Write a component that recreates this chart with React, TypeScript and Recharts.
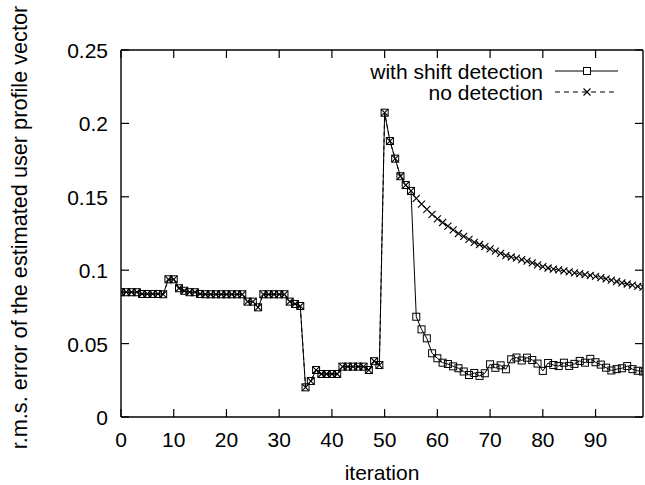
import React from "react";
import { LineChart, Line, XAxis, YAxis, Legend, ReferenceLine } from "recharts";

// ---- data ----
const withShiftDetection: number[] = [
  0.085, 0.085, 0.085, 0.085, 0.0838, 0.0838, 0.0838, 0.0838, 0.0836, 0.0938,
  0.0938, 0.0877, 0.086, 0.085, 0.085, 0.0838, 0.0836, 0.0836, 0.0836, 0.0836,
  0.0836, 0.0836, 0.0836, 0.0836, 0.0786, 0.0786, 0.0747, 0.0836, 0.0836, 0.0836,
  0.0836, 0.0836, 0.0786, 0.077, 0.0756, 0.0202, 0.0245, 0.032, 0.0293, 0.0293,
  0.0293, 0.0293, 0.0343, 0.0343, 0.0343, 0.0343, 0.0343, 0.032, 0.038, 0.0354,
  0.2073, 0.188, 0.176, 0.164, 0.158, 0.154, 0.0683, 0.0597, 0.0536, 0.0434,
  0.04, 0.037, 0.0361, 0.0345, 0.0332, 0.031, 0.0286, 0.03, 0.028, 0.0298,
  0.0359, 0.0335, 0.0352, 0.0325, 0.0393, 0.0405, 0.0385, 0.0404, 0.0388, 0.0364,
  0.0314, 0.0368, 0.0354, 0.0347, 0.037, 0.0348, 0.0362, 0.0382, 0.037, 0.0396,
  0.0373, 0.0357, 0.0336, 0.0317, 0.0326, 0.0332, 0.0347, 0.0326, 0.0315, 0.031,
];

const noDetection: number[] = [
  0.085, 0.085, 0.085, 0.085, 0.0838, 0.0838, 0.0838, 0.0838, 0.0836, 0.0938,
  0.0938, 0.0877, 0.086, 0.085, 0.085, 0.0838, 0.0836, 0.0836, 0.0836, 0.0836,
  0.0836, 0.0836, 0.0836, 0.0836, 0.0786, 0.0786, 0.0747, 0.0836, 0.0836, 0.0836,
  0.0836, 0.0836, 0.0786, 0.077, 0.0756, 0.0202, 0.0245, 0.032, 0.0293, 0.0293,
  0.0293, 0.0293, 0.0343, 0.0343, 0.0343, 0.0343, 0.0343, 0.032, 0.038, 0.0354,
  0.2073, 0.188, 0.176, 0.164, 0.158, 0.154, 0.149, 0.145, 0.1415, 0.138,
  0.135, 0.1325, 0.13, 0.1275, 0.125, 0.123, 0.121, 0.119, 0.1175, 0.116,
  0.1145, 0.113, 0.1115, 0.11, 0.109, 0.1082, 0.1072, 0.1062, 0.105, 0.1037,
  0.1025, 0.1015, 0.1008, 0.1002, 0.0995, 0.0988, 0.0982, 0.0976, 0.097, 0.0964,
  0.0958, 0.095, 0.0941, 0.0932, 0.0923, 0.0914, 0.0906, 0.0898, 0.089, 0.0885,
];

const xTicks: number[] = [0, 10, 20, 30, 40, 50, 60, 70, 80, 90];
const yTicks: number[] = [0, 0.05, 0.1, 0.15, 0.2, 0.25];
const seriesKeys: string[] = ["withShift", "noDetection"];
const seriesNames = { withShift: "with shift detection", noDetection: "no detection" };
const xTitle = "iteration";
const yTitle = "r.m.s. error of the estimated user profile vector";

const data = withShiftDetection.map((v, i) => ({
  iteration: i,
  withShift: v,
  noDetection: noDetection[i],
}));

// ---- layout ----
const W = 645;
const H = 485;
const M = { top: 50, right: 2, bottom: 0, left: 0 };
const Y_AXIS_W = 121;
const X_AXIS_H = 68;
const PLOT_W = W - M.left - M.right - Y_AXIS_W;
const PLOT_H = H - M.top - M.bottom - X_AXIS_H;
const FONT = "'Liberation Sans', Arial, Helvetica, sans-serif";
const FS = 21;
const INK = "#000";

const XTick = (props: any) => {
  const { x, y, payload } = props;
  return (
    <g>
      <line x1={x} x2={x} y1={y} y2={y - 8} stroke={INK} strokeWidth={1.2} />
      <line x1={x} x2={x} y1={y - PLOT_H} y2={y - PLOT_H + 8} stroke={INK} strokeWidth={1.2} />
      <text x={x} y={y + 30} textAnchor="middle" fontSize={FS} fontFamily={FONT} fill={INK}>
        {String(payload.value)}
      </text>
    </g>
  );
};

const YTick = (props: any) => {
  const { x, y, payload } = props;
  return (
    <g>
      <line x1={x} x2={x + 8} y1={y} y2={y} stroke={INK} strokeWidth={1.2} />
      <line x1={x + PLOT_W} x2={x + PLOT_W - 8} y1={y} y2={y} stroke={INK} strokeWidth={1.2} />
      <text x={x - 13} y={y + 8} textAnchor="end" fontSize={FS} fontFamily={FONT} fill={INK}>
        {String(payload.value)}
      </text>
    </g>
  );
};

const SquareDot = (props: any) => {
  const { cx, cy, index } = props;
  if (cx == null || cy == null) return <g key={`s-${index}`} />;
  return (
    <rect key={`s-${index}`} x={cx - 3.5} y={cy - 3.5} width={7} height={7}
      fill="none" stroke={INK} strokeWidth={1} />
  );
};

const CrossDot = (props: any) => {
  const { cx, cy, index } = props;
  if (cx == null || cy == null) return <g key={`c-${index}`} />;
  const r = 3.5;
  return (
    <g key={`c-${index}`}>
      <line x1={cx - r} y1={cy - r} x2={cx + r} y2={cy + r} stroke={INK} strokeWidth={1.1} />
      <line x1={cx - r} y1={cy + r} x2={cx + r} y2={cy - r} stroke={INK} strokeWidth={1.1} />
    </g>
  );
};

const renderLegend = (props: any) => {
  const payload: any[] = [...(props.payload || [])].sort(
    (a: any, b: any) => seriesKeys.indexOf(String(a.dataKey)) - seriesKeys.indexOf(String(b.dataKey))
  );
  return (
    <svg width={290} height={48} style={{ display: "block" }}>
      {payload.map((p: any, i: number) => {
        const cy = 13 + i * 21;
        const isShift = p.dataKey === "withShift";
        return (
          <g key={String(p.dataKey)}>
            <text x={203} y={cy + 7.5} textAnchor="end" fontSize={FS} fontFamily={FONT} fill={INK}>
              {p.value}
            </text>
            <line x1={215} x2={278} y1={cy} y2={cy} stroke={INK} strokeWidth={1}
              strokeDasharray={isShift ? undefined : "5 4"} />
            {isShift ? (
              <rect x={243.5} y={cy - 3.5} width={7} height={7} fill="#fff" stroke={INK} strokeWidth={1} />
            ) : (
              <g>
                <line x1={243.5} y1={cy - 3.5} x2={250.5} y2={cy + 3.5} stroke={INK} strokeWidth={1.1} />
                <line x1={243.5} y1={cy + 3.5} x2={250.5} y2={cy - 3.5} stroke={INK} strokeWidth={1.1} />
              </g>
            )}
          </g>
        );
      })}
    </svg>
  );
};

const XTitle = (props: any) => {
  const vb = props.viewBox || { x: Y_AXIS_W, y: M.top + PLOT_H, width: PLOT_W, height: X_AXIS_H };
  return (
    <text x={vb.x + vb.width / 2} y={vb.y + 63} textAnchor="middle" fontSize={FS} fontFamily={FONT} fill={INK}>
      {xTitle}
    </text>
  );
};

const YTitle = (props: any) => {
  const vb = props.viewBox || { x: 0, y: M.top, width: Y_AXIS_W, height: PLOT_H };
  const cx = vb.x + 27;
  const cy = vb.y + vb.height / 2 - 6;
  return (
    <text x={cx} y={cy} transform={`rotate(-90 ${cx} ${cy})`} textAnchor="middle"
      fontSize={21.7} fontFamily={FONT} fill={INK}>
      {yTitle}
    </text>
  );
};

export default function App() {
  return (
    <div style={{ position: "absolute", left: 0, top: 0, width: W, height: H, background: "#fff" }}>
      <LineChart width={W} height={H} data={data} margin={M}>
        <XAxis
          dataKey="iteration"
          type="number"
          domain={[0, 99]}
          ticks={xTicks}
          interval={0}
          height={X_AXIS_H}
          tickSize={0}
          tickMargin={0}
          tickLine={false}
          tick={<XTick />}
          axisLine={{ stroke: INK, strokeWidth: 1.4 }}
          label={{ content: <XTitle /> }}
          allowDataOverflow
        />
        <YAxis
          type="number"
          domain={[0, 0.25]}
          ticks={yTicks}
          interval={0}
          width={Y_AXIS_W}
          tickSize={0}
          tickMargin={0}
          tickLine={false}
          tick={<YTick />}
          axisLine={{ stroke: INK, strokeWidth: 1.4 }}
          label={{ content: <YTitle /> }}
          allowDataOverflow
        />
        <ReferenceLine y={0.25} stroke={INK} strokeWidth={1.4} />
        <ReferenceLine x={99} stroke={INK} strokeWidth={1.4} />
        <Legend
          layout="horizontal"
          verticalAlign="middle"
          align="center"
          wrapperStyle={{ top: 58, left: 340, width: 290, height: 48 }}
          content={renderLegend}
        />
        <Line
          type="linear"
          dataKey="withShift"
          name={seriesNames.withShift}
          stroke={INK}
          strokeWidth={1}
          dot={SquareDot}
          activeDot={false}
          isAnimationActive={false}
        />
        <Line
          type="linear"
          dataKey="noDetection"
          name={seriesNames.noDetection}
          stroke={INK}
          strokeWidth={1}
          strokeDasharray="4 3"
          dot={CrossDot}
          activeDot={false}
          isAnimationActive={false}
        />
      </LineChart>
    </div>
  );
}
